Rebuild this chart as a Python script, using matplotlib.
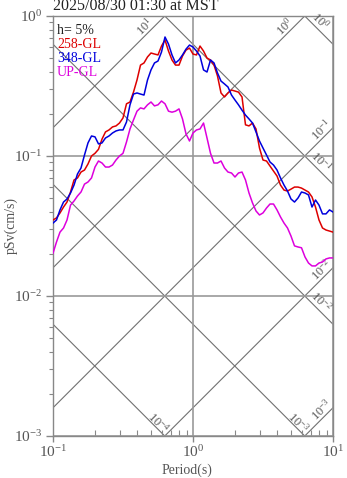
import numpy as np
import matplotlib
matplotlib.use('Agg')
import matplotlib.pyplot as plt
from matplotlib.ticker import LogLocator, NullFormatter

plt.rcParams['font.family'] = ['Liberation Serif', 'DejaVu Serif']
plt.rcParams['mathtext.fontset'] = 'custom'
plt.rcParams['mathtext.rm'] = 'Liberation Serif'
plt.rcParams['mathtext.it'] = 'Liberation Serif:italic'
plt.rcParams['mathtext.bf'] = 'Liberation Serif:bold'

# ---------------- data ----------------
title = '2025/08/30 01:30 at MST'
damping_label = 'h= 5%'
series_names = ['258-GL', '348-GL', 'UP-GL']
x_label = 'Period(s)'
y_label = 'pSv(cm/s)'

periods = [0.1, 0.1059, 0.1122, 0.1189, 0.1259, 0.1334, 0.1413, 0.1496, 0.1585, 0.1679,
           0.1778, 0.1884, 0.1995, 0.2113, 0.2239, 0.2371, 0.2512, 0.2661, 0.2818, 0.2985,
           0.3162, 0.3350, 0.3548, 0.3758, 0.3981, 0.4217, 0.4467, 0.4732, 0.5012, 0.5309,
           0.5623, 0.5957, 0.6310, 0.6683, 0.7079, 0.7499, 0.7943, 0.8414, 0.8913, 0.9441,
           1.0, 1.059, 1.122, 1.189, 1.259, 1.334, 1.413, 1.496, 1.585, 1.679,
           1.778, 1.884, 1.995, 2.113, 2.239, 2.371, 2.512, 2.661, 2.818, 2.985,
           3.162, 3.350, 3.548, 3.758, 3.981, 4.217, 4.467, 4.732, 5.012, 5.309,
           5.623, 5.957, 6.310, 6.683, 7.079, 7.499, 7.943, 8.414, 8.913, 9.441,
           10.0]

sv_258 = [0.0349, 0.0361, 0.0392, 0.0432, 0.0469, 0.0553, 0.0674, 0.0697, 0.0768, 0.0794,
          0.0877, 0.100, 0.1045, 0.1116, 0.132, 0.1486, 0.1535, 0.1613, 0.164, 0.172,
          0.187, 0.236, 0.243, 0.286, 0.349, 0.446, 0.462, 0.510, 0.544, 0.535,
          0.527, 0.610, 0.674, 0.562, 0.485, 0.446, 0.446, 0.518, 0.571, 0.590,
          0.535, 0.527, 0.610, 0.562, 0.501, 0.485, 0.446, 0.373, 0.282, 0.264,
          0.282, 0.296, 0.291, 0.286, 0.264, 0.167, 0.164, 0.172, 0.156, 0.114,
          0.0936, 0.0921, 0.0848, 0.0781, 0.0720, 0.0620, 0.0571, 0.0562, 0.0580, 0.0600,
          0.0600, 0.0590, 0.0571, 0.0553, 0.0510, 0.0432, 0.0349, 0.0306, 0.0296, 0.0291,
          0.0286]

sv_348 = [0.0332, 0.0349, 0.0412, 0.0469, 0.0493, 0.0544, 0.0620, 0.0744, 0.0821, 0.1017,
          0.124, 0.139, 0.137, 0.122, 0.124, 0.1345, 0.139, 0.146, 0.151, 0.1535,
          0.1535, 0.175, 0.232, 0.277, 0.282, 0.277, 0.2725, 0.349, 0.412, 0.462,
          0.477, 0.553, 0.708, 0.630, 0.527, 0.462, 0.485, 0.527, 0.580, 0.620,
          0.600, 0.562, 0.518, 0.412, 0.398, 0.485, 0.462, 0.392, 0.343, 0.327,
          0.311, 0.2725, 0.251, 0.232, 0.2125, 0.196, 0.184, 0.172, 0.1486, 0.128,
          0.114, 0.1017, 0.0906, 0.0862, 0.0794, 0.0697, 0.0620, 0.0562, 0.0493, 0.0469,
          0.0501, 0.0553, 0.0544, 0.0527, 0.0432, 0.0485, 0.0446, 0.0386, 0.0386, 0.0412,
          0.0398]

sv_up = [0.0202, 0.0243, 0.0286, 0.0306, 0.0349, 0.0446, 0.0477, 0.0518, 0.0553, 0.0630,
         0.0652, 0.0697, 0.0834, 0.0921, 0.0891, 0.0834, 0.0834, 0.0862, 0.0936, 0.100,
         0.1045, 0.126, 0.156, 0.181, 0.209, 0.2206, 0.217, 0.232, 0.243, 0.228,
         0.232, 0.247, 0.236, 0.209, 0.2056, 0.209, 0.217, 0.184, 0.1438, 0.128,
         0.146, 0.1535, 0.156, 0.172, 0.1345, 0.1045, 0.0891, 0.0891, 0.0921, 0.0821,
         0.0768, 0.0756, 0.0708, 0.0756, 0.0768, 0.0674, 0.0544, 0.0462, 0.0405, 0.0379,
         0.0392, 0.0425, 0.0454, 0.0454, 0.0412, 0.0367, 0.0332, 0.0306, 0.0268, 0.0228,
         0.0224, 0.0221, 0.0190, 0.0172, 0.0164, 0.0164, 0.0172, 0.0175, 0.0184, 0.0187,
         0.0187]

# tripartite guide levels: displacement (cm) and acceleration (cm/s^2)
sd_levels = [1e-4, 1e-3, 1e-2, 1e-1, 1e0]
sa_levels = [1e-3, 1e-2, 1e-1, 1e0, 1e1]

# ---------------- styling ----------------
series_colors = ['#dd0000', '#0000dd', '#dd00dd']
gray_txt = '#555555'
t_min, t_max = 0.1, 10.0
v_min, v_max = 1e-3, 1.0

W, H, DPI = 347, 478, 100
fig = plt.figure(figsize=(W / DPI, H / DPI), dpi=DPI)
ax = fig.add_axes([53 / W, (H - 436) / H, 280 / W, 420 / H])
ax.set_xscale('log')
ax.set_yscale('log')
ax.set_xlim(t_min, t_max)
ax.set_ylim(v_min, v_max)

# major grid
ax.grid(which='major', color='#999999', lw=1.2, zorder=1)

# diagonal guide lines
two_pi = 2 * np.pi
tt = np.array([t_min, t_max])
px2pt = 72.0 / DPI
c = np.sqrt(0.5)
for sd in sd_levels:
    ax.plot(tt, two_pi * sd / tt, color='#707070', lw=0.8, zorder=1.5)
    t_end = two_pi * sd / v_min
    if t_end <= t_max:
        end = (t_end, v_min); a, p = 14, 5
    else:
        end = (t_max, two_pi * sd / t_max); a, p = 25, 7.5
    dx = c * (p - a) * px2pt
    dy = c * (a + p) * px2pt
    ax.annotate(r'$\mathdefault{10^{%d}}$' % int(round(np.log10(sd))), xy=end,
                xytext=(dx, dy), textcoords='offset points', ha='center', va='center',
                rotation=-45, rotation_mode='anchor', fontsize=9, color=gray_txt,
                annotation_clip=False)
for sa in sa_levels:
    ax.plot(tt, sa * tt / two_pi, color='#707070', lw=0.8, zorder=1.5)
    t_end = two_pi * v_max / sa
    if t_end <= t_max:
        end = (t_end, v_max); a, p = 22, 6.5
    else:
        end = (t_max, sa * t_max / two_pi); a, p = 10, 6.5
    dx = -c * (a + p) * px2pt
    dy = c * (p - a) * px2pt
    ax.annotate(r'$\mathdefault{10^{%d}}$' % int(round(np.log10(sa))), xy=end,
                xytext=(dx, dy), textcoords='offset points', ha='center', va='center',
                rotation=45, rotation_mode='anchor', fontsize=9, color=gray_txt,
                annotation_clip=False)

# spectra
for vals, col in zip([sv_258, sv_348, sv_up], series_colors):
    ax.plot(periods, vals, color=col, lw=1.1, zorder=3)

ax.set_xlim(t_min, t_max)
ax.set_ylim(v_min, v_max)

# ticks
ax.xaxis.set_major_locator(LogLocator(base=10))
ax.yaxis.set_major_locator(LogLocator(base=10))
ax.xaxis.set_minor_locator(LogLocator(base=10, subs=np.arange(2, 10)))
ax.yaxis.set_minor_locator(LogLocator(base=10, subs=np.arange(2, 10)))
ax.xaxis.set_minor_formatter(NullFormatter())
ax.yaxis.set_minor_formatter(NullFormatter())
ax.tick_params(axis='y', which='major', direction='out', length=5, width=1, color='#888888',
               labelsize=11, labelcolor=gray_txt, pad=3)
ax.tick_params(axis='y', which='minor', direction='out', length=3, width=0.8, color='#888888')
ax.tick_params(axis='x', which='major', direction='out', length=4, width=1, color='#888888',
               labelsize=11, labelcolor=gray_txt, pad=1.5)
ax.tick_params(axis='x', which='minor', direction='in', length=4, width=0.8, color='#888888')
for s in ax.spines.values():
    s.set_color('#888888')
    s.set_linewidth(1.0)

# texts
fig.text(53 / W, 1 - 10.5 / H, title, fontsize=11.5, color='#222222', ha='left', va='baseline')
fig.text(11 / W, (H - 225) / H, y_label, rotation=90, fontsize=10, color=gray_txt,
         ha='center', va='center')
fig.text(187 / W, (H - 470) / H, x_label, fontsize=10, color=gray_txt,
         ha='center', va='center')

legend_y = [30, 44, 58, 72]
ax.text(4 / 280, (436 - legend_y[0]) / 420, damping_label, transform=ax.transAxes,
        fontsize=10, color='#222222', ha='left', va='center')
for name, col, yy in zip(series_names, series_colors, legend_y[1:]):
    ax.text(4 / 280, (436 - yy) / 420, name, transform=ax.transAxes,
            fontsize=10, color=col, ha='left', va='center')

fig.savefig('out.png', dpi=DPI)
